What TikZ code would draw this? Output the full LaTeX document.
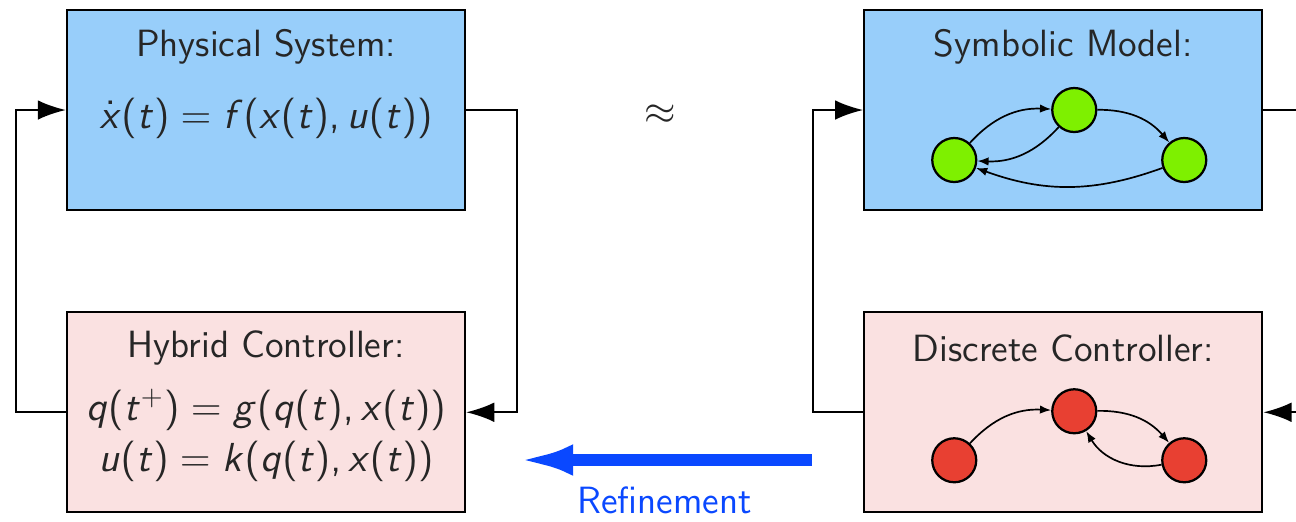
\documentclass[tikz,border=0pt]{standalone}
\usepackage{amsmath,amssymb}
\usetikzlibrary{arrows.meta,positioning}

% sans serif maths, as on slides
\SetSymbolFont{operators}{normal}{OT1}{cmss}{m}{n}
\SetSymbolFont{letters}{normal}{OT1}{cmss}{m}{sl}
\DeclareMathSymbol{,}{\mathpunct}{operators}{"2C}

\definecolor{sysblue}{RGB}{152,206,250}
\definecolor{ctrlpink}{RGB}{250,225,225}
\definecolor{symgreen}{RGB}{126,240,0}
\definecolor{ctrlred}{RGB}{232,64,50}
\definecolor{refblue}{RGB}{10,72,255}

\begin{document}
\begin{tikzpicture}[
  block/.style={rectangle, draw, thick, minimum width=4.975cm,
                minimum height=2.5cm, inner sep=0pt},
  label/.style={font=\fontsize{13.5}{16}\selectfont\sffamily, align=center, text=black!85},
  eqn/.style={label, font=\fontsize{14.2}{17}\selectfont},
  state/.style={circle, draw, thick, minimum size=0.55cm, inner sep=0pt},
  arrow/.style={-{Latex[length=10pt,width=7pt]}, thick},
  edge/.style={-{Latex[length=4pt,width=3pt]}, semithick, bend left=25},
  node distance=1.25cm
]
  \useasboundingbox (0,0) rectangle (16.2,-6.5125);

  % the four blocks
  \node[block, fill=sysblue] (phys) at (3.325,-1.375) {};
  \node[block, fill=ctrlpink, below=of phys] (hyb) {};
  \node[block, fill=sysblue, right=4.9625cm of phys] (symb) {};
  \node[block, fill=ctrlpink, below=of symb] (disc) {};

  \node[label] (physT) at ([yshift=-0.47cm]phys.north) {Physical System:};
  \node[eqn] (physEq) at ([yshift=-0.1cm]phys.center) {$\dot{x}(t) = f(x(t),u(t))$};
  \node[label] (hybT) at ([yshift=-0.46cm]hyb.north) {Hybrid Controller:};
  \node[eqn] (hybEq) at ([yshift=-0.29cm]hyb.center)
    {$q(t^{+}) = g(q(t),x(t))$\\[1pt] $u(t) = k(q(t),x(t))$};
  \node[label] (symbT) at ([yshift=-0.47cm]symb.north) {Symbolic Model:};
  \node[label] (discT) at ([yshift=-0.46cm]disc.north) {Discrete Controller:};

  \node[label, font=\Large] (approx) at (8.25,-1.4375) {$\approx$};

  % symbolic model graph
  \node[state, fill=symgreen] (sA) at ([shift={(-1.3625,-0.625)}]symb.center) {};
  \node[state, fill=symgreen] (sB) at ([shift={(0.1375,0)}]symb.center) {};
  \node[state, fill=symgreen] (sC) at ([shift={(1.5125,-0.625)}]symb.center) {};
  \draw[edge] (sA) to (sB);
  \draw[edge] (sB) to (sA);
  \draw[edge] (sB) to (sC);
  \draw[edge, bend left=20] (sC) to (sA);

  % discrete controller graph
  \node[state, fill=ctrlred] (dA) at ([shift={(-1.3625,-0.6)}]disc.center) {};
  \node[state, fill=ctrlred] (dB) at ([shift={(0.1375,0.0125)}]disc.center) {};
  \node[state, fill=ctrlred] (dC) at ([shift={(1.5125,-0.6)}]disc.center) {};
  \draw[edge] (dA) to (dB);
  \draw[edge] (dB) to (dC);
  \draw[edge, bend left=35] (dC) to (dB);

  % feedback loops
  \draw[arrow] (phys.east) -- ++(0.6375,0) |- (hyb.east);
  \draw[arrow] (hyb.west) -- ++(-0.625,0) |- (phys.west);
  \draw[arrow] (disc.west) -- ++(-0.625,0) |- (symb.west);
  \coordinate (symbOut) at ([xshift=0.45cm]symb.east);
  \coordinate (discIn) at ([xshift=0.45cm]disc.east);
  \draw[thick] (symb.east) -- (symbOut);
  \draw[arrow] (discIn) -- (disc.east);

  % refinement
  \coordinate (refFrom) at (10.15,-5.75);
  \coordinate (refTo) at (6.4625,-5.75);
  \draw[-{Latex[length=20pt,width=11pt]}, line width=4pt, draw=refblue]
    (refFrom) -- node[label, below=0.15cm, text=refblue] (refT) {Refinement} (refTo);
\end{tikzpicture}
\end{document}
